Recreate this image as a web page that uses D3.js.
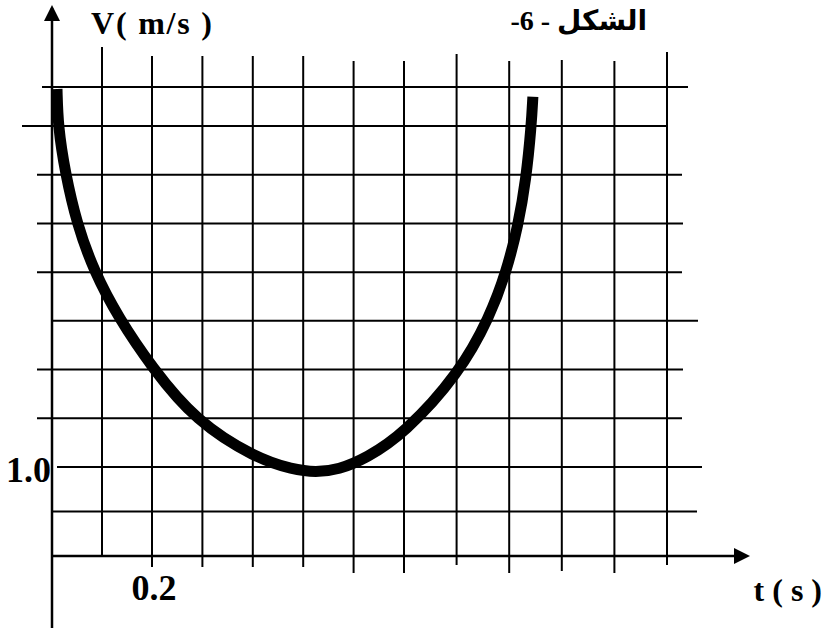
<!DOCTYPE html>
<html>
<head>
<meta charset="utf-8">
<script src="https://cdn.jsdelivr.net/npm/d3@7"></script>
<style>
  html, body { margin: 0; padding: 0; background: #fff; }
  svg { display: block; }
</style>
</head>
<body>
<svg id="chart" width="824" height="630"></svg>
<script>
// ---------- data ----------
const gridT = [0.1, 0.2, 0.3, 0.4, 0.5, 0.6, 0.7, 0.8, 0.9, 1.0, 1.1, 1.2];
const gridV = [0.5, 1.0, 1.5, 2.0, 2.5, 3.0, 3.5, 4.0, 4.5, 4.9];
const xTickLabels = [0.2];
const yTickLabels = [1.0];
const curveT = [0.010, 0.012, 0.026, 0.050, 0.084, 0.132, 0.200, 0.287, 0.406, 0.480, 0.525, 0.570, 0.625, 0.700, 0.805, 0.863, 0.895, 0.917, 0.932, 0.942, 0.945];
const curveV = [4.88, 4.50, 4.03, 3.49, 3.01, 2.54, 2.02, 1.47, 1.09, 0.97, 0.94, 0.97, 1.09, 1.34, 1.96, 2.54, 3.01, 3.48, 3.95, 4.50, 4.80];
const xTitle = "t ( s )";
const yTitle = "V( m/s )";
const figTitle = "-6 - الشكل";

// ---------- layout (hand-drawn grid stub lengths, px) ----------
const vTop = [47, 56, 56, 56, 56, 61, 61, 54, 61, 60, 61, 52];
const vBottom = [556, 567, 567, 567, 567, 573, 573, 565, 573, 571, 573, 565];
const hLeft = [52, 57, 37, 37, 52, 37, 37, 37, 22, 42];
const hRight = [697, 702, 682, 683, 698, 682, 683, 682, 667, 688];

const svg = d3.select("#chart");
// hand-drawn figure: piecewise linear scales follow the drawn grid
const x = d3.scaleLinear().domain([0, 0.2, 0.7, 1.2]).range([52, 152, 404, 667]);
const y = d3.scaleLinear().domain([0, 1, 4.5]).range([556, 467, 126]);

const g = svg.append("g");

// vertical grid lines
g.selectAll("line.vg").data(gridT).join("line")
  .attr("class", "vg")
  .attr("x1", d => x(d)).attr("x2", d => x(d))
  .attr("y1", (d, i) => vTop[i]).attr("y2", (d, i) => vBottom[i])
  .attr("stroke", "#000").attr("stroke-width", 2);

// horizontal grid lines
g.selectAll("line.hg").data(gridV).join("line")
  .attr("class", "hg")
  .attr("y1", d => y(d)).attr("y2", d => y(d))
  .attr("x1", (d, i) => hLeft[i]).attr("x2", (d, i) => hRight[i])
  .attr("stroke", "#000").attr("stroke-width", 2);

// axes
const x0 = x(0), y0 = y(0);
g.append("line").attr("x1", x0).attr("x2", x0).attr("y1", 8).attr("y2", 628)
  .attr("stroke", "#000").attr("stroke-width", 2.5);
g.append("line").attr("x1", x0).attr("x2", 745).attr("y1", y0).attr("y2", y0)
  .attr("stroke", "#000").attr("stroke-width", 2.5);
g.append("path").attr("d", `M${x0},5 L${x0 - 8},21 L${x0 + 8},21 Z`).attr("fill", "#000");
g.append("path").attr("d", `M750,${y0} L734,${y0 - 8} L734,${y0 + 8} Z`).attr("fill", "#000");

// curve
const pts = curveT.map((t, i) => [t, curveV[i]]);
const line = d3.line().x(d => x(d[0])).y(d => y(d[1])).curve(d3.curveBasis);
g.append("path").datum(pts).attr("d", line)
  .attr("fill", "none").attr("stroke", "#000").attr("stroke-width", 11)
  .attr("stroke-linecap", "butt").attr("stroke-linejoin", "round");

// labels
const serif = "'Liberation Serif', 'Times New Roman', serif";
g.selectAll("text.xt").data(xTickLabels).join("text")
  .attr("class", "xt")
  .attr("x", d => x(d) + 2).attr("y", 600)
  .attr("text-anchor", "middle")
  .attr("font-family", serif).attr("font-weight", "bold").attr("font-size", 36)
  .text(d => d.toFixed(1));
g.selectAll("text.yt").data(yTickLabels).join("text")
  .attr("class", "yt")
  .attr("x", 51).attr("y", d => y(d) + 15)
  .attr("text-anchor", "end")
  .attr("font-family", serif).attr("font-weight", "bold").attr("font-size", 36)
  .text(d => d.toFixed(1));

svg.append("text").attr("x", 91).attr("y", 34)
  .attr("font-family", serif).attr("font-weight", "bold").attr("font-size", 32)
  .attr("textLength", 121).attr("lengthAdjust", "spacing")
  .text(yTitle);
svg.append("text").attr("x", 822).attr("y", 601).attr("text-anchor", "end")
  .attr("font-family", serif).attr("font-weight", "bold").attr("font-size", 32)
  .text(xTitle);
svg.append("text").attr("x", 647).attr("y", 30).attr("text-anchor", "end")
  .attr("direction", "ltr")
  .attr("font-family", "'Liberation Serif', 'DejaVu Sans', serif")
  .attr("font-weight", "bold").attr("font-size", 28)
  .text(figTitle);
</script>
</body>
</html>
